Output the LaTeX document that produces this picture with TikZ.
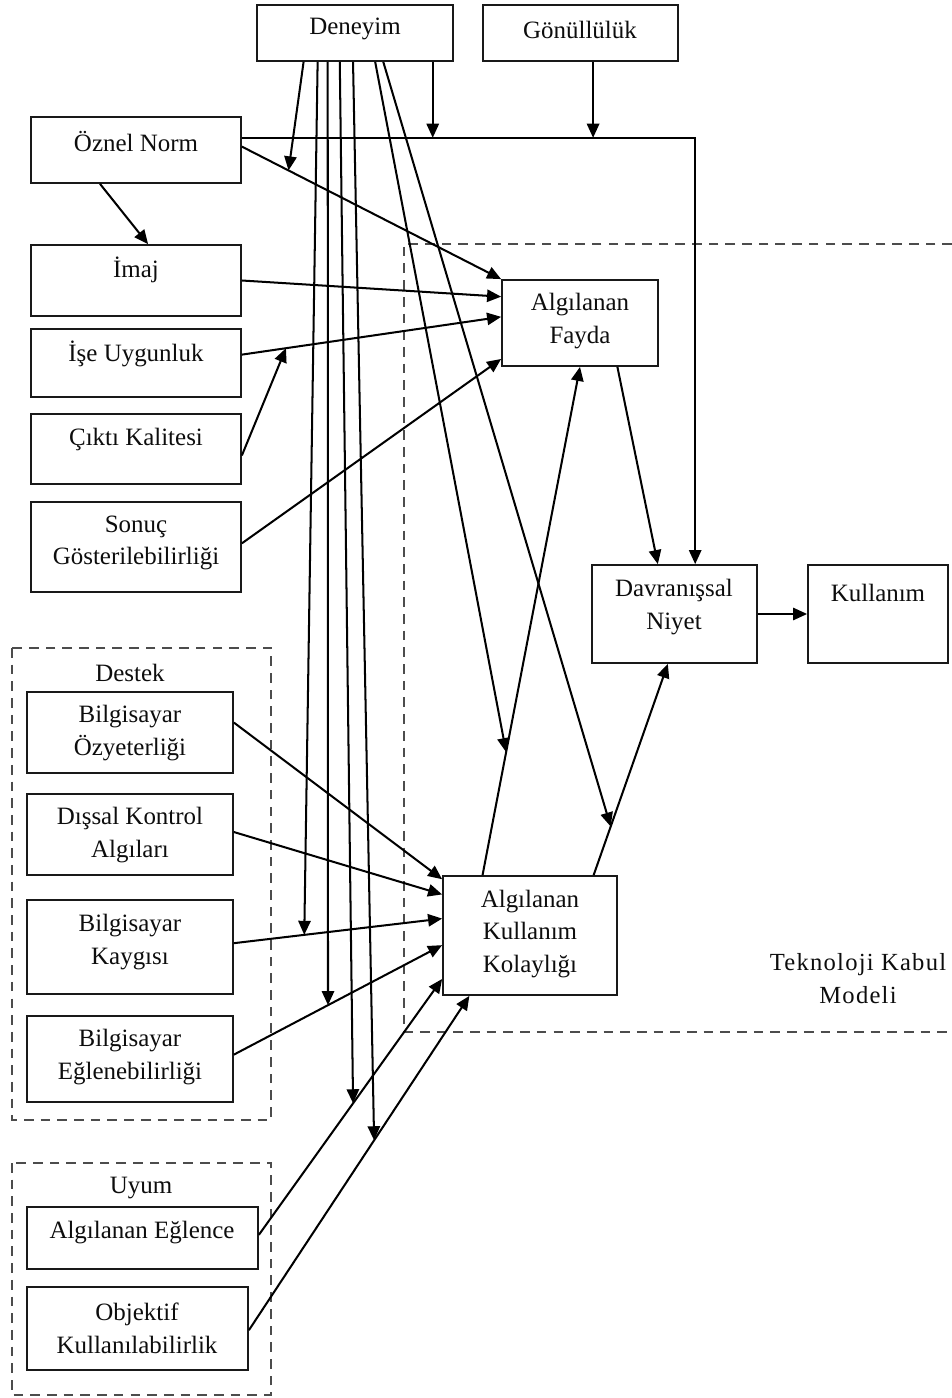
\documentclass[tikz,border=0pt]{standalone}
\usepackage{fontspec}
\setmainfont{Liberation Serif}
\newfontfamily\tkmfont[LetterSpace=5]{Liberation Serif}
\usetikzlibrary{fit,calc,arrows.meta}
\newcommand{\ptR}[3]{\coordinate (#1) at ($(#2.north east)!#3!(#2.south east)$);}
\newcommand{\ptL}[3]{\coordinate (#1) at ($(#2.north west)!#3!(#2.south west)$);}
\newcommand{\ptT}[3]{\coordinate (#1) at ($(#2.north west)!#3!(#2.north east)$);}
\newcommand{\ptB}[3]{\coordinate (#1) at ($(#2.south west)!#3!(#2.south east)$);}
\begin{document}
\begin{tikzpicture}[x=0.02cm,y=-0.02cm,
  box/.style={draw=black!90, line width=1pt, inner sep=0pt},
  txt/.style={font=\fontsize{14.2pt}{18.7pt}\selectfont, align=center, text=black!95, inner sep=1pt},
  arr/.style={line width=1.15pt, -{Triangle[length=8pt,width=7pt]}},
  dbox/.style={draw=black!70, line width=0.6pt, dash pattern=on 5.5pt off 4pt}]
\useasboundingbox (0,0) rectangle (952,1398);
\fill[white] (0,0) rectangle (952,1398);

% dashed groups
\draw[dbox] (12,648) rectangle (271,1120);
\draw[dbox] (12,1163) rectangle (271,1395);
\draw[dbox] (952,244) -- (404,244) -- (404,1032) -- (952,1032);

% boxes
\node[box, fit={(257,5)(453,61)}] (den) {};
\node[box, fit={(483,5)(678,61)}] (gon) {};
\node[box, fit={(31,117)(241,183)}] (oznel) {};
\node[box, fit={(31,245)(241,316)}] (imaj) {};
\node[box, fit={(31,329)(241,397)}] (ise) {};
\node[box, fit={(31,414)(241,484)}] (cikti) {};
\node[box, fit={(31,502)(241,592)}] (sonuc) {};
\node[box, fit={(502,280)(658,366)}] (fayda) {};
\node[box, fit={(592,565)(757,663)}] (niyet) {};
\node[box, fit={(808,565)(948,663)}] (kul) {};
\node[box, fit={(443,876)(617,995)}] (kol) {};
\node[box, fit={(27,692)(233,773)}] (ozy) {};
\node[box, fit={(27,794)(233,875)}] (dis) {};
\node[box, fit={(27,900)(233,994)}] (kay) {};
\node[box, fit={(27,1016)(233,1102)}] (eg) {};
\node[box, fit={(27,1207)(258,1269)}] (ae) {};
\node[box, fit={(27,1287)(248,1370)}] (ob) {};

% texts
\node[txt] (t-den) at (355,29) {Deneyim};
\node[txt] (t-gon) at (580,30) {Gönüllülük};
\node[txt] (t-oznel) at (136,142) {Öznel Norm};
\node[txt] (t-imaj) at (136,270) {İmaj};
\node[txt] (t-ise) at (136,354) {İşe Uygunluk};
\node[txt] (t-cikti) at (136,439) {Çıktı Kalitesi};
\node[txt] (t-sonuc) at (136,543) {Sonuç\\Gösterilebilirliği};
\node[txt] (t-fayda) at (580,321) {Algılanan\\Fayda};
\node[txt] (t-niyet) at (674,607) {Davranışsal\\Niyet};
\node[txt] (t-kul) at (878,593) {Kullanım};
\node[txt] (t-kol) at (530,934) {Algılanan\\Kullanım\\Kolaylığı};
\node[txt, font=\tkmfont\fontsize{14pt}{18.7pt}\selectfont] (t-tkm) at (858,979) {Teknoloji Kabul\\Modeli};
\node[txt] (t-destek) at (130,673) {Destek};
\node[txt] (t-ozy) at (130,733) {Bilgisayar\\Özyeterliği};
\node[txt] (t-dis) at (130,835) {Dışsal Kontrol\\Algıları};
\node[txt] (t-kay) at (130,942) {Bilgisayar\\Kaygısı};
\node[txt] (t-eg) at (130,1057) {Bilgisayar\\Eğlenebilirliği};
\node[txt] (t-uyum) at (141,1188) {Uyum};
\node[txt] (t-ae) at (142,1233) {Algılanan Eğlence};
\node[txt] (t-ob) at (137,1328) {Objektif\\Kullanılabilirlik};

% anchor points
\ptB{ozB}{oznel}{0.33} \ptT{imT}{imaj}{0.557}
\ptR{ozR1}{oznel}{0.32} \ptT{nyT1}{niyet}{0.624}
\ptR{ozR2}{oznel}{0.45}
\ptL{faL1}{fayda}{0.2}
\ptR{iseR}{ise}{0.38} \ptL{faL2}{fayda}{0.43}
\ptR{ckR}{cikti}{0.59}
\ptR{snR}{sonuc}{0.46} \ptL{faL3}{fayda}{0.91}
\ptR{ozyR}{ozy}{0.38} \ptL{kL1}{kol}{0.034}
\ptR{disR}{dis}{0.47} \ptL{kL2}{kol}{0.16}
\ptR{kayR}{kay}{0.46} \ptL{kL3}{kol}{0.36}
\ptR{egR}{eg}{0.45} \ptL{kL4}{kol}{0.58}
\ptR{aeR}{ae}{0.45} \ptL{kL5}{kol}{0.86}
\ptR{obR}{ob}{0.52} \ptB{kB1}{kol}{0.155}
\ptT{kT1}{kol}{0.23}
\ptT{kT2}{kol}{0.862} \ptB{nyB}{niyet}{0.46}
\ptB{faB}{fayda}{0.737} \ptT{nyT2}{niyet}{0.4}
\ptB{d1}{den}{0.24} \ptB{d2}{den}{0.311} \ptB{d3}{den}{0.362}
\ptB{d4}{den}{0.423} \ptB{d5}{den}{0.49} \ptB{d6}{den}{0.602}
\ptB{d7}{den}{0.643} \ptB{d8}{den}{0.893}
\ptB{g1}{gon}{0.564}

% connectors
\draw[arr] (ozB) -- (imT);
\draw[arr] (ozR1) -| (nyT1);
\draw[arr] (ozR2) -- coordinate[pos=0.18] (m2) (fayda.north west);
\draw[arr] (imaj.east) -- (faL1);
\draw[arr] (iseR) -- coordinate[pos=0.17] (m1) (faL2);
\draw[arr] (ckR) -- (m1);
\draw[arr] (snR) -- (faL3);

\draw[arr] (ozyR) -- (kL1);
\draw[arr] (disR) -- (kL2);
\draw[arr] (kayR) -- coordinate[pos=0.338] (m3) (kL3);
\draw[arr] (egR) -- coordinate[pos=0.452] (m4) (kL4);
\draw[arr] (aeR) -- coordinate[pos=0.514] (m5) (kL5);
\draw[arr] (obR) -- coordinate[pos=0.568] (m6) (kB1);

\draw[arr] (kT1) -- coordinate[pos=0.242] (m7) (fayda.south);
\draw[arr] (kT2) -- coordinate[pos=0.23] (m8) (nyB);
\draw[arr] (faB) -- (nyT2);
\draw[arr] (niyet.east) -- (kul.west);

\draw[arr] (d1) -- (m2);
\draw[arr] (d2) -- (m3);
\draw[arr] (d3) -- (m4);
\draw[arr] (d4) -- (m5);
\draw[arr] (d5) -- (m6);
\draw[arr] (d6) -- (m7);
\draw[arr] (d7) -- (m8);
\draw[arr] (d8) -- (d8 |- ozR1);
\draw[arr] (g1) -- (g1 |- ozR1);
\end{tikzpicture}
\end{document}
